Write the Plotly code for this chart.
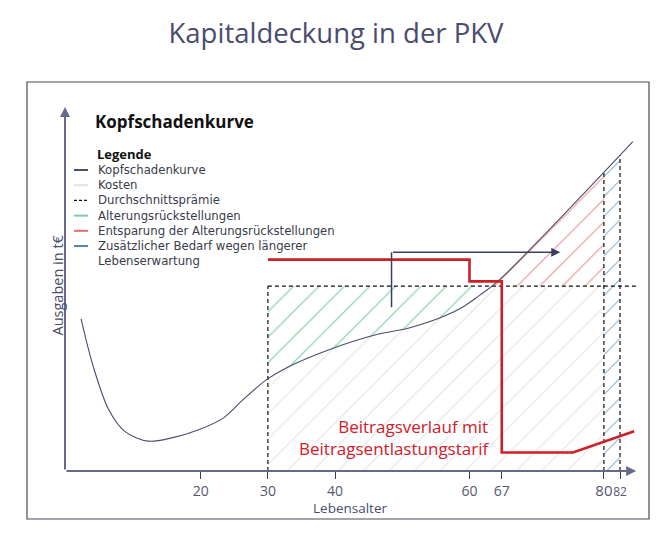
"""Kapitaldeckung in der PKV: schematische Kopfschadenkurve mit Plotly."""

import numpy as np
import plotly.graph_objects as go

# Schematische Achse: Positionen in "Lebensalter"-Einheiten, 67 ist im Original bei ~65 gezeichnet
x_tick_pos = [20, 30, 40, 60, 64.8, 80, 82.4]
x_tick_text = ["20", "30", "40", "60", "67", "<span style='font-size:15px'>80</span>",
               "<span style='font-size:12px'>82</span>"]

# Kopfschadenkurve (Ausgaben, willkürliche Einheiten)
curve_age = [2.2, 4.0, 6.3, 8.7, 12.2, 15.7, 19.8, 23.4, 26.3, 29.8, 32.8, 39.2,
             46.2, 51.0, 56.2, 59.2, 61.3, 64.2, 84.3]
curve_val = [41.8, 28.8, 16.9, 10.9, 8.2, 9.1, 11.4, 14.6, 19.6, 25.1, 28.4, 33.4,
             37.5, 39.3, 42.5, 45.3, 48.0, 52.1, 90.5]

# Durchschnittsprämie
premium_val = 50.8
premium_age = [30, 85.1]

# Beitragsverlauf mit Beitragsentlastungstarif
beitrag_age = [30, 60, 60, 64.8, 64.8, 75.4, 84.5]
beitrag_val = [58.1, 58.1, 52.1, 52.1, 5.1, 5.1, 10.9]

# Pfeil Alterungsrückstellungen -> Entsparung
arrow_age = [48.4, 48.4, 73.5]
arrow_val = [45.0, 60.1, 60.1]

age_start = 30
age_end = 80
age_life = 82.4

legend_labels = [
    "Kopfschadenkurve",
    "Kosten",
    "Durchschnittsprämie",
    "Alterungsrückstellungen",
    "Entsparung der Alterungsrückstellungen",
    "Zusätzlicher Bedarf wegen längerer",
    "Lebenserwartung",
]
legend_colors = ["#4a4d6b", "#e2e2e2", "#111111", "#7fcba2", "#e07070", "#4f86aa", None]

FONT = "Open Sans"
LEG_FONT = "DejaVu Sans"
W, H = 672, 539
L, R, T, B = 65, 23, 82, 68
X_RANGE = [-0.19, 86.71]
Y_RANGE = [0, 106.9]


def px_x(px):
    return (px - L) / (W - L - R)


def px_y(py):
    return (H - B - py) / (H - T - B)


cx = np.array(curve_age)
cy = np.array(curve_val)
c_start = float(np.interp(age_start, cx, cy))
c_end = float(np.interp(age_end, cx, cy))
c_life = float(np.interp(age_life, cx, cy))
# Schnittpunkt Kurve / Prämie
cross = float(np.interp(premium_val, cy[cx > 40], cx[cx > 40]))

mid = (cx > age_start) & (cx < cross)
late = (cx > cross) & (cx < age_end)

kosten_x = [age_start, age_start] + list(cx[mid]) + [cross, age_end, age_end]
kosten_y = [0, c_start] + list(cy[mid]) + [premium_val, premium_val, 0]

gruen_x = [age_start, cross] + list(cx[mid][::-1]) + [age_start]
gruen_y = [premium_val, premium_val] + list(cy[mid][::-1]) + [c_start]

rot_x = [cross] + list(cx[late]) + [age_end, age_end]
rot_y = [premium_val] + list(cy[late]) + [c_end, premium_val]

blau_x = [age_end, age_end, age_life, age_life]
blau_y = [0, c_end, c_life, 0]

fig = go.Figure()


def hatch(xs, ys, color, size=16):
    fig.add_trace(go.Scatter(
        x=xs, y=ys, mode="lines", fill="toself",
        line=dict(width=0), fillcolor="rgba(0,0,0,0)",
        fillpattern=dict(shape="/", fgcolor=color, bgcolor="rgba(0,0,0,0)",
                         size=size, solidity=0.07, fgopacity=1),
        hoverinfo="skip", showlegend=False,
    ))


hatch(kosten_x, kosten_y, "#e8e8e8", 18)
hatch(gruen_x, gruen_y, "#8fd4ae", 18)
hatch(rot_x, rot_y, "#e99292", 16)
hatch(blau_x, blau_y, "#5a8fb2", 14)

dash = "4px,3px"
fig.add_trace(go.Scatter(x=premium_age, y=[premium_val, premium_val], mode="lines",
                         line=dict(color="#111111", width=1.2, dash=dash),
                         hoverinfo="skip", showlegend=False))
for a, top in [(age_start, premium_val), (age_end, c_end), (age_life, c_life)]:
    fig.add_trace(go.Scatter(x=[a, a], y=[0, top], mode="lines",
                             line=dict(color="#111111", width=1.2, dash=dash),
                             hoverinfo="skip", showlegend=False))

fig.add_trace(go.Scatter(x=curve_age, y=curve_val, mode="lines",
                         line=dict(color="#4a4d6b", width=1.1, shape="spline", smoothing=0.9),
                         name="Kopfschadenkurve", showlegend=False))

fig.add_trace(go.Scatter(x=beitrag_age, y=beitrag_val, mode="lines",
                         line=dict(color="#cf1f26", width=2.6),
                         name="Beitragsverlauf", showlegend=False))

fig.add_trace(go.Scatter(x=arrow_age[:2], y=arrow_val[:2], mode="lines",
                         line=dict(color="#3b3f5e", width=1.5),
                         hoverinfo="skip", showlegend=False))

ann = []
# Pfeilspitze horizontal
ann.append(dict(x=arrow_age[2], y=arrow_val[2], ax=arrow_age[1], ay=arrow_val[1],
                xref="x", yref="y", axref="x", ayref="y", text="", showarrow=True,
                arrowhead=2, arrowsize=1.2, arrowwidth=1.5, arrowcolor="#3b3f5e", standoff=0))
# Achsenpfeile
ann.append(dict(x=84.8, y=0, ax=X_RANGE[0], ay=0, xref="x", yref="y", axref="x", ayref="y",
                text="", showarrow=True, arrowhead=2, arrowsize=1, arrowwidth=2,
                arrowcolor="#66698a", standoff=0))
ann.append(dict(x=X_RANGE[0], y=100, ax=X_RANGE[0], ay=0, xref="x", yref="y", axref="x",
                ayref="y", text="", showarrow=True, arrowhead=2, arrowsize=1, arrowwidth=2,
                arrowcolor="#66698a", standoff=0))

ann.append(dict(x=63.2, y=9.3, xref="x", yref="y", xanchor="right", yanchor="middle",
                align="right", showarrow=False,
                text="Beitragsverlauf mit<br>Beitragsentlastungstarif",
                font=dict(family=FONT, size=17, color="#d0202a")))

ann.append(dict(x=px_x(350), y=px_y(508), xref="paper", yref="paper", showarrow=False,
                text="Lebensalter", font=dict(family=FONT, size=13.5, color="#4a4d6b"),
                yanchor="middle"))
ann.append(dict(x=px_x(45), y=px_y(285), xref="paper", yref="paper", showarrow=False,
                text="Ausgaben in t€", textangle=-90,
                font=dict(family=FONT, size=14.5, color="#4a4d6b")))

ann.append(dict(x=px_x(93), y=px_y(121), xref="paper", yref="paper", showarrow=False,
                xanchor="left", yanchor="middle", text="<b>Kopfschadenkurve</b>",
                font=dict(family=FONT, size=17, color="#111111")))
ann.append(dict(x=px_x(95), y=px_y(154), xref="paper", yref="paper", showarrow=False,
                xanchor="left", yanchor="middle", text="<b>Legende</b>",
                font=dict(family=FONT, size=13, color="#111111")))

# Legende als ein Textblock, Farbmuster links daneben
leg_size = 11.7
line_h = 1.3 * leg_size
first_row = 170
ann.append(dict(x=px_x(96), y=px_y(first_row - line_h / 2 - 1), xref="paper", yref="paper",
                showarrow=False, xanchor="left", yanchor="top", align="left",
                text="<br>".join(legend_labels),
                font=dict(family=LEG_FONT, size=leg_size, color="#3a3b4c")))

shapes = []
for i, color in enumerate(legend_colors):
    if color is None:
        continue
    py = first_row + i * line_h
    dotted = i == 2
    shapes.append(dict(type="line", xref="paper", yref="paper",
                       x0=px_x(74), x1=px_x(88), y0=px_y(py), y1=px_y(py),
                       line=dict(color=color, width=1.2 if dotted else 2,
                                 dash="3px,2px" if dotted else "solid")))

# Rahmen
shapes.append(dict(type="rect", xref="paper", yref="paper", x0=px_x(27), x1=px_x(649),
                   y0=px_y(519), y1=px_y(82), line=dict(color="#4a4a58", width=1.2),
                   layer="below"))

fig.update_layout(
    width=W, height=H,
    margin=dict(l=L, r=R, t=T, b=B),
    paper_bgcolor="white", plot_bgcolor="white",
    title=dict(text="Kapitaldeckung in der PKV", x=0.5, xanchor="center",
               y=1 - 33 / H, yanchor="middle",
               font=dict(family=FONT, size=27.5, color="#4a4c6e")),
    xaxis=dict(range=X_RANGE, tickvals=x_tick_pos, ticktext=x_tick_text, tickangle=0,
               ticks="outside", ticklen=7, tickwidth=1.2, tickcolor="#3c3f5a",
               showline=False, showgrid=False, zeroline=False,
               tickfont=dict(family=FONT, size=14, color="#55586f"), fixedrange=True),
    yaxis=dict(range=Y_RANGE, showticklabels=False, ticks="", showline=False,
               showgrid=False, zeroline=False, fixedrange=True),
    annotations=ann,
    shapes=shapes,
    showlegend=False,
)

fig.write_html("out.html", config={"displayModeBar": False},
               post_script="document.body.style.margin='0px';")
